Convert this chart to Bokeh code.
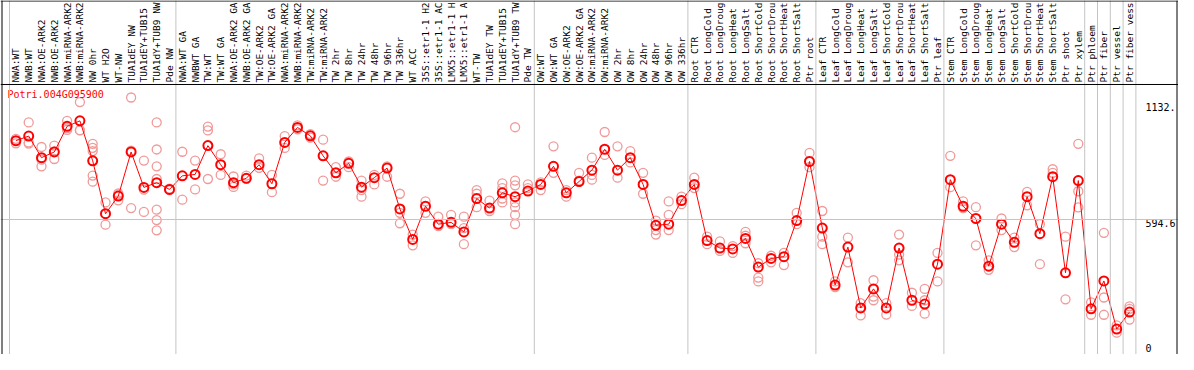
import math
from bokeh.plotting import figure
from bokeh.models import Range1d, Span
from bokeh.embed import file_html
from bokeh.resources import INLINE
from bokeh.core.properties import value

gene = "Potri.004G095900"

# column labels as they appear (truncated) in the chart
labels = [
    "NWA:WT", "NWB:WT", "NWA:OE-ARK2", "NWB:OE-ARK2", "NWA:miRNA-ARK2", "NWB:miRNA-ARK2",
    "NW 0hr", "WT H2O", "WT-NW", "TUA1dEY NW", "TUA1dEY+TUB15", "TUA1dY+TUB9 NW", "Pde NW",
    "NWA:WT GA", "NWBWT GA", "TW:WT", "TW:WT GA", "NWA:OE-ARK2 GA", "NWB:OE-ARK2 GA",
    "TW:OE-ARK2", "TW:OE-ARK2 GA", "NWA:miRNA-ARK2", "NWB:miRNA-ARK2", "TW:miRNA-ARK2",
    "TW:miRNA-ARK2", "TW 2hr", "TW 8hr", "TW 24hr", "TW 48hr", "TW 96hr", "TW 336hr",
    "WT ACC", "35S::etr1-1 H2", "35S::etr1-1 AC", "LMX5::etr1-1 H", "LMX5::etr1-1 A",
    "WT-TW", "TUA1dEY TW", "TUA1dEY+TUB15", "TUA1dY+TUB9 TW", "Pde TW",
    "OW:WT", "OW:WT GA", "OW:OE-ARK2", "OW:OE-ARK2 GA", "OW:miRNA-ARK2", "OW:miRNA-ARK2",
    "OW 2hr", "OW 8hr", "OW 24hr", "OW 48hr", "OW 96hr", "OW 336hr",
    "Root CTR", "Root LongCold", "Root LongDroug", "Root LongHeat", "Root LongSalt",
    "Root ShortCold", "Root ShortDrou", "Root ShortHeat", "Root ShortSalt", "Ptr root",
    "Leaf CTR", "Leaf LongCold", "Leaf LongDroug", "Leaf LongHeat", "Leaf LongSalt",
    "Leaf ShortCold", "Leaf ShortDrou", "Leaf ShortHeat", "Leaf ShortSalt", "Ptr leaf",
    "Stem CTR", "Stem LongCold", "Stem LongDroug", "Stem LongHeat", "Stem LongSalt",
    "Stem ShortCold", "Stem ShortDrou", "Stem ShortHeat", "Stem ShortSalt", "Ptr shoot",
    "Ptr xylem", "Ptr phloem", "Ptr fiber", "Ptr vessel", "Ptr fiber vess",
]

means = [
    942, 962, 867, 892, 1005, 1029, 853, 620, 698, 892, 736, 757, 727,
    787, 793, 920, 836, 757, 776, 836, 752, 934, 1000, 963, 875, 800, 842, 737, 779, 821,
    641, 507, 653, 574, 582, 540, 687, 645, 712, 695, 720,
    749, 829, 712, 762, 812, 904, 812, 867, 749, 569, 574, 678,
    749, 502, 469, 465, 511, 385, 423, 431, 590, 850,
    557, 306, 473, 205, 289, 205, 469, 239, 222, 398,
    770, 653, 599, 389, 574, 494, 695, 532, 783, 360,
    766, 201, 324, 112, 187,
]

replicates = [
    [950, 940, 930], [1022, 934, 929], [914, 858, 829], [920, 895, 861], [1029, 997, 989],
    [1112, 988, 987], [928, 910, 896, 788, 761], [670, 620, 572], [710, 705, 679],
    [1132, 898, 645], [854, 726, 628], [1022, 903, 829, 773, 638, 592, 547], [730, 724],
    [893, 682], [854, 727], [1004, 987, 773], [882, 791], [784, 749, 738], [788, 775],
    [864, 822], [791, 715], [962, 910], [1009, 992], [971, 955], [946, 875, 766],
    [825, 783], [850, 825], [766, 724, 695], [791, 749], [829, 783], [708, 624, 578],
    [528, 481], [674, 624], [607, 565], [615, 574], [607, 557, 486], [724, 708, 649],
    [678, 632], [754, 733, 687, 670], [1001, 766, 745, 670, 649, 615, 574], [749, 733],
    [758, 724], [917, 800], [724, 695], [800, 766], [867, 791, 770], [980, 879],
    [917, 779], [896, 846], [800, 749, 708], [590, 548, 528], [674, 615, 548], [695, 662],
    [779, 733], [519, 486], [498, 456], [477, 448], [540, 523, 490], [402, 339, 322],
    [435, 406], [448, 394], [624, 574], [888, 825],
    [632, 519, 486], [322, 297], [515, 406], [226, 172], [327, 255, 239], [226, 176],
    [528, 440, 415], [272, 214], [289, 239, 180], [448, 322],
    [875, 737], [674, 645], [649, 481], [415, 373], [599, 548], [515, 473], [716, 657],
    [574, 398], [816, 800], [519, 243],
    [928, 719, 648], [230, 175], [536, 251, 175], [128, 96], [212, 201, 154],
]

group_breaks = [0, 13, 41, 53, 63, 73, 84, 85, 86, 87, 88]
y_tick_values = [1132, 594.6, 0]
y_tick_labels = ["1132.", "594.6", "0"]
y_top = 1189.2

# ---- layout (pixels) ----
W, H = 1178, 354
X0, CW = 9.0, 12.8          # left of first column, column width
PT, PB = 84.0, 354.0        # pixel rows of y_top and of 0
sy = y_top / (PB - PT)
x_start = -X0 / CW
x_end = (W - X0) / CW
y_end = y_top + PT * sy
y_start = -(H - PB) * sy - 0.0001


def px_x(px):
    return (px - X0) / CW


def px_y(py):
    return y_top - (py - PT) * sy


FONT = value("DejaVu Sans Mono")

p = figure(width=W, height=H, x_range=Range1d(x_start, x_end), y_range=Range1d(y_start, y_end),
           min_border=0, toolbar_location=None, output_backend="svg")
p.axis.visible = False
p.grid.visible = False
p.outline_line_color = None
p.background_fill_color = "white"
p.border_fill_color = "white"

grid_col = "#c4c4c4"
for b in group_breaks:
    p.add_layout(Span(location=b, dimension="height", line_color=grid_col, line_width=1))
p.add_layout(Span(location=y_top / 2, dimension="width", line_color=grid_col, line_width=1))
p.add_layout(Span(location=y_top, dimension="width", line_color="black", line_width=1))

# borders (left, right, top)
p.add_layout(Span(location=px_x(1.5), dimension="height", line_color="black", line_width=1))
p.add_layout(Span(location=px_x(W - 1.5), dimension="height", line_color="black", line_width=1))
p.add_layout(Span(location=px_y(0.5), dimension="width", line_color="black", line_width=1))

centers = [i + 0.5 for i in range(len(labels))]

# column labels (vertical)
p.text(x=centers, y=[y_top] * len(labels), text=labels, angle=math.pi / 2,
       text_align="left", text_baseline="middle", y_offset=-2,
       text_font=FONT, text_font_size="9.5px", text_color="black")

# replicate points
rx, ry = [], []
for i, reps in enumerate(replicates):
    for v in reps:
        rx.append(centers[i])
        ry.append(v)
p.scatter(rx, ry, marker="circle", size=9, line_color="#f09a9a", fill_color=None, line_width=1.3)

# mean line + points
p.line(centers, means, line_color="#ff0000", line_width=1)
p.scatter(centers, means, marker="circle", size=9, line_color="#ff0000", fill_color=None, line_width=2)

# gene label
p.text(x=[px_x(7)], y=[px_y(94)], text=[gene], text_align="left", text_baseline="middle",
       text_font=FONT, text_font_size="10px", text_color="#ff0000")

# right tick labels
p.text(x=[px_x(W - 33)] * 3, y=y_tick_values, text=y_tick_labels, text_align="left",
       text_baseline="top", y_offset=[6, 0, -10],
       text_font=FONT, text_font_size="10px", text_color="black")

open("out.html", "w").write(file_html(p, INLINE))
